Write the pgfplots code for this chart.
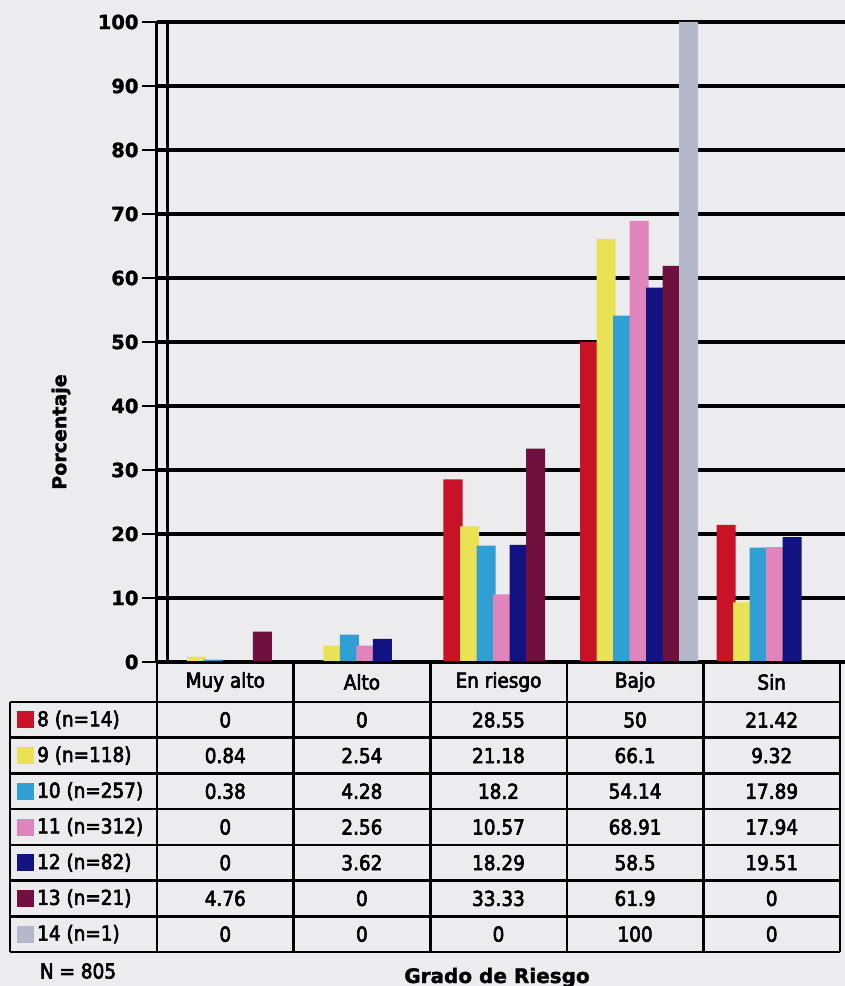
\documentclass[border=0pt]{standalone}
\usepackage{fontspec}
\setmainfont{DejaVu Sans}[BoldFeatures={FakeBold=1.5}]
\newfontfamily\cond{DejaVu Sans Condensed}[FakeBold=3]
\usepackage{pgfplots}
\usepackage{pgfplotstable}
\pgfplotsset{compat=1.18}

\definecolor{paper}{RGB}{236,236,238}
\definecolor{c8}{RGB}{200,18,40}
\definecolor{c9}{RGB}{232,226,84}
\definecolor{c10}{RGB}{48,160,212}
\definecolor{c11}{RGB}{224,132,188}
\definecolor{c12}{RGB}{18,18,128}
\definecolor{c13}{RGB}{112,16,62}
\definecolor{c14}{RGB}{180,184,202}

% Porcentaje por grado de riesgo (filas) y edad (columnas)
\pgfplotstableread{
cat s8    s9    s10   s11   s12   s13   s14
0   0     0.84  0.38  0     0     4.76  0
1   0     2.54  4.28  2.56  3.62  0     0
2   28.55 21.18 18.2  10.57 18.29 33.33 0
3   50    66.1  54.14 68.91 58.5  61.9  100
4   21.42 9.32  17.89 17.94 19.51 0     0
}\riesgo

\pgfplotsset{
  cyl/.style={draw=none, fill=#1},
}

\newcommand{\tabfont}{\cond\fontsize{20.5}{20.5}\selectfont}

\begin{document}
\begin{tikzpicture}
\useasboundingbox (-157pt,-324pt) rectangle (688pt,662pt);
\fill[paper] (-157pt,-324pt) rectangle (688pt,662pt);

\begin{axis}[
  at={(0pt,0pt)}, anchor=south west,
  scale only axis, width=688pt, height=640pt,
  xmin=-0.5, xmax=4.5366, ymin=0, ymax=100,
  ybar, bar width=19pt,
  axis x line=none, axis y line*=left,
  y axis line style={line width=3pt,-},
  ytick={0,10,...,100},
  ymajorgrids, grid style={line width=3.2pt, black},
  tick align=outside, major tick length=15pt,
  ytick style={line width=2.8pt, black},
  yticklabel style={font=\bfseries\fontsize{19.5}{19.5}\selectfont},
  /pgf/number format/assume math mode=true,
]
\addplot[cyl=c8,  bar shift=-45.5pt] table[x=cat,y=s8]  {\riesgo};
\addplot[cyl=c9,  bar shift=-29pt]   table[x=cat,y=s9]  {\riesgo};
\addplot[cyl=c10, bar shift=-12.5pt] table[x=cat,y=s10] {\riesgo};
\addplot[cyl=c11, bar shift=4pt]     table[x=cat,y=s11] {\riesgo};
\addplot[cyl=c12, bar shift=20.5pt]  table[x=cat,y=s12] {\riesgo};
\addplot[cyl=c13, bar shift=37pt]    table[x=cat,y=s13] {\riesgo};
\addplot[cyl=c14, bar shift=53.5pt]  table[x=cat,y=s14] {\riesgo};
\end{axis}

% back wall edge
\draw[line width=3pt] (11pt,0pt) -- (11pt,640pt);

% data table
\begin{scope}[line width=2.6pt]
  \draw (0pt,0pt) -- (683pt,0pt);
  \foreach \k in {0,...,7}
    \draw (-147pt,{-40pt-\k*35.714pt}) -- (683pt,{-40pt-\k*35.714pt});
  \draw (-147pt,-40pt) -- (-147pt,-290pt);
  \foreach \xx in {0,136.6,273.2,409.8,546.4,683}
    \draw (\xx pt,0pt) -- (\xx pt,-290pt);
\end{scope}

\foreach \c [count=\i from 0] in {Muy alto,Alto,En riesgo,Bajo,Sin}
  \node[font=\tabfont] at ({(\i+0.5)*136.6pt},-20pt) {\c};

\foreach \s/\n [count=\j from 0] in {8/14,9/118,10/257,11/312,12/82,13/21,14/1}{
  \fill[c\s] (-140pt,{-40pt-(\j+0.5)*35.714pt-8.5pt}) rectangle ++(17pt,17pt);
  \node[anchor=west, inner sep=0pt, font=\tabfont] at (-120pt,{-40pt-(\j+0.5)*35.714pt}) {\s\ (n=\n)};
  \foreach \r in {0,...,4}{
    \pgfplotstablegetelem{\r}{s\s}\of\riesgo
    \node[font=\tabfont] at ({(\r+0.5)*136.6pt},{-40pt-(\j+0.5)*35.714pt}) {\pgfplotsretval};
  }
}

\node[font=\tabfont] at (-79pt,-309pt) {N = 805};
\node[anchor=base, font=\bfseries\fontsize{20}{20}\selectfont] at (340pt,-321pt) {Grado de Riesgo};
\node[font=\bfseries\fontsize{19}{19}\selectfont, rotate=90] at (-96pt,230pt) {Porcentaje};
\end{tikzpicture}
\end{document}
